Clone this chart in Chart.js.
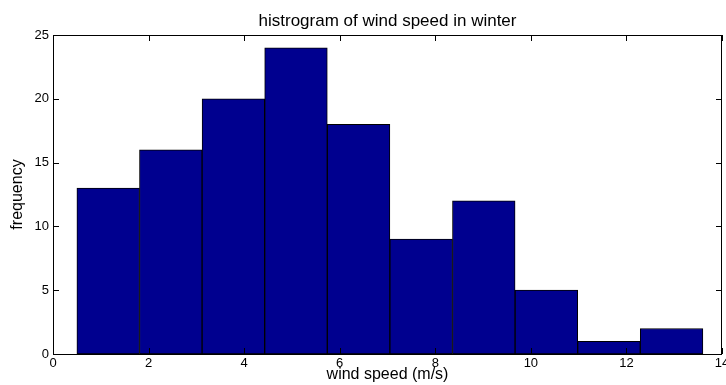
<!DOCTYPE html>
<html lang="en">
<head>
  <meta charset="UTF-8">
  <title>histrogram of wind speed in winter</title>

  <!-- Chart.js -->
  <script src="https://cdn.jsdelivr.net/npm/chart.js"></script>

  <style>
    body { margin: 0; background: #fff; }
    #wrap { width: 726px; height: 385px; }
  </style>
</head>
<body>
  <div id="wrap">
    <canvas id="windChart"></canvas>
  </div>

<script>
// bin centres (m/s) and counts
const binCenters = [1.155, 2.465, 3.775, 5.085, 6.395, 7.705, 9.015, 10.325, 11.635, 12.945];
const counts = [13, 16, 20, 24, 18, 9, 12, 5, 1, 2];

// axis ticks
const xTicks = [0, 2, 4, 6, 8, 10, 12, 14];
const yTicks = [0, 5, 10, 15, 20, 25];

const FONT = "'Liberation Sans', Arial, Helvetica, sans-serif";

// MATLAB-like box with inward tick marks on all four sides
const boxPlugin = {
  id: 'matlabBox',
  afterDatasetsDraw(chart) {
    const { ctx, chartArea: a, scales } = chart;
    const len = 6;
    ctx.save();
    ctx.strokeStyle = '#000';
    ctx.lineWidth = 1;
    ctx.strokeRect(Math.round(a.left) + 0.5, Math.round(a.top) + 0.5,
                   Math.round(a.right - a.left) - 1, Math.round(a.bottom - a.top));
    ctx.beginPath();
    xTicks.forEach(v => {
      const px = Math.round(scales.x.getPixelForValue(v)) + 0.5;
      ctx.moveTo(px, a.bottom); ctx.lineTo(px, a.bottom - len);
      ctx.moveTo(px, a.top); ctx.lineTo(px, a.top + len);
    });
    yTicks.forEach(v => {
      const py = Math.round(scales.y.getPixelForValue(v)) + 0.5;
      ctx.moveTo(a.left, py); ctx.lineTo(a.left + len, py);
      ctx.moveTo(a.right, py); ctx.lineTo(a.right - len, py);
    });
    ctx.stroke();
    ctx.restore();
  }
};

new Chart(document.getElementById('windChart'), {
  type: 'bar',
  data: {
    datasets: [{
      data: binCenters.map((c, i) => ({ x: c, y: counts[i] })),
      backgroundColor: '#00008F',
      borderColor: '#000',
      borderWidth: 1,
      borderSkipped: false,
      barPercentage: 1,
      categoryPercentage: 1
    }]
  },
  options: {
    responsive: true,
    maintainAspectRatio: false,
    animation: false,
    layout: { padding: { left: 0, right: 4, top: 0, bottom: 0 } },
    plugins: {
      legend: { display: false },
      tooltip: { enabled: false },
      title: {
        display: true,
        text: 'histrogram of wind speed in winter',
        color: '#000',
        fullSize: false,
        font: { family: FONT, size: 17, weight: 'normal' },
        padding: { top: 11, bottom: 3.6 }
      }
    },
    scales: {
      x: {
        type: 'linear',
        min: 0, max: 14,
        offset: false,
        grid: { display: false, drawTicks: false, offset: false },
        border: { display: false },
        afterBuildTicks: s => { s.ticks = xTicks.map(v => ({ value: v })); },
        ticks: { color: '#000', padding: 2, maxRotation: 0, autoSkip: false,
                 font: { family: FONT, size: 13 } },
        title: { display: true, text: 'wind speed (m/s)', color: '#000',
                 font: { family: FONT, size: 16 }, padding: { top: 0, bottom: 1 } },
        afterFit: s => { s.height = 31; s.paddingLeft = 0; s.paddingRight = 0; }
      },
      y: {
        min: 0, max: 25,
        grid: { display: false, drawTicks: false },
        border: { display: false },
        afterBuildTicks: s => { s.ticks = yTicks.map(v => ({ value: v })); },
        ticks: { color: '#000', padding: 4, font: { family: FONT, size: 13 } },
        title: { display: true, text: 'frequency', color: '#000',
                 font: { family: FONT, size: 16 }, padding: { top: 8, bottom: 0 } },
        afterFit: s => { s.width = 53; s.paddingTop = 0; s.paddingBottom = 0; }
      }
    }
  },
  plugins: [boxPlugin]
});
</script>
</body>
</html>
